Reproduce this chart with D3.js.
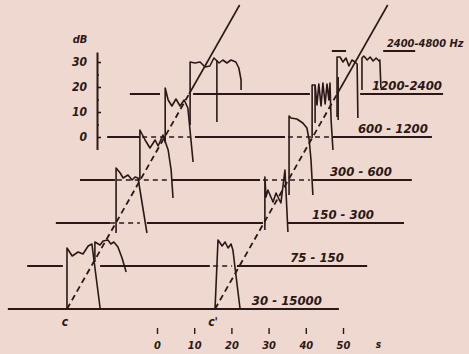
<!DOCTYPE html>
<html lang="en">
<head>
<meta charset="utf-8">
<title>Band filter responses to a frequency sweep</title>
<script src="https://cdn.jsdelivr.net/npm/d3@7"></script>
<style>
  body { margin: 0; background: #efd8d0; }
  svg { display: block; }
  text { font-family: "DejaVu Sans Condensed", "DejaVu Sans", sans-serif;
         font-weight: bold; font-style: italic; fill: #2a1816; }
</style>
</head>
<body>
<script>
// band rows: label and level of each baseline (dB)
var rowLabels = ["30 - 15000", "75 - 150", "150 - 300", "300 - 600", "600 - 1200", "1200-2400", "2400-4800 Hz"];
var rowLevels = [-68.8, -51.6, -34.4, -17.2, 0, 17.2, 34.4];
var labelStart = [25.5, 35.8, 41.7, 46.5, 54.0, 57.8, 61.8];   // s

// baseline pieces per row, in seconds
var rowSolid = [
  [[-40.1, 48.9]],
  [[-34.9, -25.3], [-15.3, 14.2], [21.5, 56.5]],
  [[-27.2, -12.6], [-2.7, 28.5], [35.2, 66.4]],
  [[-20.7, -11.3], [4.0, 27.7], [41.9, 68.5]],
  [[-13.4, -4.6], [10.2, 34.4], [47.3, 73.9]],
  [[-7.3, 0.8], [9.7, 41.1], [54.6, 76.9]],
  [[47.0, 50.8], [60.8, 69.4]]
];
var rowDashed = [
  [],
  [[15.1, 20.2]],
  [[-12.6, -4.6]],
  [[-10.8, 2.7], [28.5, 41.1]],
  [[-4.0, 8.9], [35.2, 46.5]],
  [],
  []
];

// band bursts: [s, dB]
var bursts = [
  [[-24.2,-68.8],[-24.2,-44.4],[-22.8,-47.6],[-21.2,-46],[-19.9,-46.8],[-18.5,-43.6],[-17.5,-42.8],[-15.3,-68.4]],
  [[-16.7,-50],[-16.7,-42],[-15.3,-43.2],[-14.5,-41.6],[-13.2,-41.2],[-12.4,-42.8],[-11.6,-42],[-10.5,-44],[-9.4,-48.4],[-8.3,-54]],
  [[-11.0,-38.4],[-11.0,-12.4],[-9.9,-14.4],[-9.1,-16.4],[-7.8,-15.2],[-6.7,-17.2],[-5.9,-16],[-5.1,-16.4],[-2.7,-38.4]],
  [[-4.6,-17.2],[-4.6,2.8],[-3.2,-1.2],[-1.9,-4.4],[-0.5,-1.2],[0.3,-3.6],[1.6,0.8],[3.0,-5.2],[3.8,-13.2],[4.3,-24.4]],
  [[2.2,-2.4],[2.2,19.6],[3.0,14.8],[4.0,12.4],[5.1,15.2],[6.2,12.4],[7.3,14.8],[8.3,11.6],[9.7,-10]],
  [[8.9,4.8],[8.9,30],[10.2,29.6],[11.6,30],[12.9,28],[14.2,28.4],[15.3,31.6],[16.7,29.6],[17.7,30.8],[18.8,29.6],[19.9,30.8],[21.2,30],[22.0,27.6],[22.6,22.8],[22.6,18.8]],
  [[15.6,-68.8],[16.4,-41.2],[17.5,-43.6],[18.3,-42],[19.1,-44.4],[19.9,-42.8],[20.4,-45.2],[22.3,-68.4]],
  [[29.0,-37.2],[29.0,-16],[29.3,-24],[29.8,-21.2],[31.2,-26],[32.0,-22.4],[33.3,-26.4],[34.4,-13.2],[35.2,-38]],
  [[35.5,-23.2],[35.5,8.4],[36.0,7.6],[37.6,7.2],[39.2,5.6],[40.3,3.6],[40.9,-1.2],[41.4,-9.2],[41.9,-23.2]],
  [[41.7,-0.4],[41.7,20.8],[42.5,20.8],[43.0,12.8],[43.5,21.2],[44.1,12.4],[44.6,21.6],[45.2,13.2],[45.7,21.2],[46.2,14.8],[46.5,21.6],[46.8,6.8],[47.3,-5.2]],
  [[48.4,8],[48.4,32],[49.2,32],[50.0,30],[50.8,31.6],[51.6,28.4],[52.4,30.8],[53.2,30],[53.8,29.2],[54.0,7.6]],
  [[55.1,18.8],[55.1,31.6],[55.6,32.4],[56.5,30.8],[57.3,32],[58.1,30.4],[58.9,31.6],[59.7,30.4],[59.9,30.8],[60.2,19.6]]
];
// single vertical strokes: [s, dB from, dB to]
var strokes = [[16.1, 30.8, 6], [42.5, 20.8, 5.6], [48.7, 24, 6.8]];

// the two sweeps
var sweepStart = [-24.2, 15.6];
var sweepNames = ["c", "c'"];
var sweepRate = 2.62;     // dB per s
var sweepFloor = -68.8, sweepSolidFrom = 17.2, sweepTop = 52.8;

var xTicks = [0, 10, 20, 30, 40, 50];
var yTicks = [0, 10, 20, 30];
var yMinor = [5, 15, 25];

var w = 469, h = 354;
var ink = "#2a1816";

var x = d3.scaleLinear().domain([0, 50]).range([157, 343]);
var y = d3.scaleLinear().domain([0, 30]).range([137, 62]);

var svg = d3.select("body").append("svg").attr("width", w).attr("height", h);
svg.append("rect").attr("width", w).attr("height", h).attr("fill", "#efd8d0");

var line = d3.line().x(function(d) { return x(d[0]); }).y(function(d) { return y(d[1]); });

// baselines
rowLevels.forEach(function(lv, i) {
  rowSolid[i].forEach(function(s) {
    svg.append("line").attr("x1", x(s[0])).attr("x2", x(s[1]))
      .attr("y1", y(lv)).attr("y2", y(lv))
      .attr("stroke", ink).attr("stroke-width", 2);
  });
  rowDashed[i].forEach(function(s) {
    svg.append("line").attr("x1", x(s[0])).attr("x2", x(s[1]))
      .attr("y1", y(lv)).attr("y2", y(lv))
      .attr("stroke", ink).attr("stroke-width", 1.6).attr("stroke-dasharray", "5,4");
  });
  svg.append("text").attr("x", x(labelStart[i])).attr("y", y(lv) - 4)
    .style("font-size", i == 6 ? "11px" : "13px")
    .text(rowLabels[i]);
});

// bursts
svg.selectAll("path.burst").data(bursts).enter().append("path")
  .attr("class", "burst").attr("d", line)
  .attr("fill", "none").attr("stroke", ink).attr("stroke-width", 1.6)
  .attr("stroke-linejoin", "round");

svg.selectAll("line.stroke").data(strokes).enter().append("line")
  .attr("class", "stroke")
  .attr("x1", function(d) { return x(d[0]); }).attr("x2", function(d) { return x(d[0]); })
  .attr("y1", function(d) { return y(d[1]); }).attr("y2", function(d) { return y(d[2]); })
  .attr("stroke", ink).attr("stroke-width", 1.6);

// sweeps: dashed low, solid high
sweepStart.forEach(function(t0, i) {
  var tMid = t0 + (sweepSolidFrom - sweepFloor) / sweepRate;
  var tEnd = t0 + (sweepTop - sweepFloor) / sweepRate;
  svg.append("path").attr("d", line([[t0, sweepFloor], [tMid, sweepSolidFrom]]))
    .attr("stroke", ink).attr("stroke-width", 1.8).attr("stroke-dasharray", "6,4");
  svg.append("path").attr("d", line([[tMid, sweepSolidFrom], [tEnd, sweepTop]]))
    .attr("stroke", ink).attr("stroke-width", 1.6);
  svg.append("text").attr("x", x(t0) - 2).attr("y", y(sweepFloor) + 17)
    .attr("text-anchor", "middle").style("font-size", "12px").text(sweepNames[i]);
});

// dB axis
var yAxisScale = y.copy().domain([-5, 34]).range([y(-5), y(34)]);
var yAxis = svg.append("g").attr("transform", "translate(97,0)")
  .call(d3.axisLeft(yAxisScale).tickValues(yTicks).tickSizeInner(-4).tickSizeOuter(0).tickPadding(10));
yAxis.select(".domain").attr("stroke", ink).attr("stroke-width", 2);
yAxis.selectAll(".tick line").attr("stroke", ink).attr("stroke-width", 1.6);
yAxis.selectAll(".tick text").style("font-size", "12px").attr("fill", ink);
svg.append("g").attr("transform", "translate(97,0)")
  .call(d3.axisRight(yAxisScale).tickValues(yMinor).tickSize(2).tickFormat(""))
  .call(function(g) { g.select(".domain").remove(); })
  .selectAll(".tick line").attr("stroke", ink).attr("stroke-width", 1.5);
svg.append("text").attr("x", 80).attr("y", 43).attr("text-anchor", "middle")
  .style("font-size", "11px").text("dB");

// time axis
var xAxis = svg.append("g").attr("transform", "translate(0,328)")
  .call(d3.axisBottom(x).tickValues(xTicks).tickSize(6).tickPadding(7));
xAxis.select(".domain").remove();
xAxis.selectAll(".tick line").attr("stroke", ink).attr("stroke-width", 1.4);
xAxis.selectAll(".tick text").style("font-size", "11px").attr("fill", ink);
svg.append("text").attr("x", x(59.5)).attr("y", 348).attr("text-anchor", "middle")
  .style("font-size", "10px").text("s");
</script>
</body>
</html>
